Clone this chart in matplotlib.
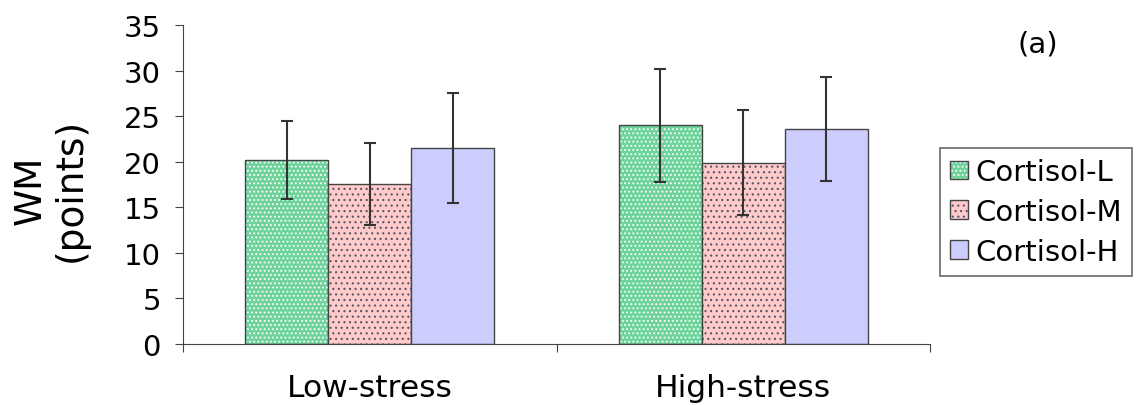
import matplotlib
matplotlib.use("Agg")
import matplotlib.pyplot as plt
import numpy as np

categories = ["Low-stress", "High-stress"]
series = ["Cortisol-L", "Cortisol-M", "Cortisol-H"]
means = {
    "Cortisol-L": [20.2, 24.0],
    "Cortisol-M": [17.6, 19.9],
    "Cortisol-H": [21.5, 23.6],
}
errors = {
    "Cortisol-L": [4.3, 6.2],
    "Cortisol-M": [4.5, 5.8],
    "Cortisol-H": [6.0, 5.7],
}
colors = {"Cortisol-L": "#6fd39c", "Cortisol-M": "#ffcaca", "Cortisol-H": "#cccdfd"}
hatches = {"Cortisol-L": "....", "Cortisol-M": "...", "Cortisol-H": None}
hatch_colors = {"Cortisol-L": "white", "Cortisol-M": "#555566", "Cortisol-H": "#333333"}

plt.rcParams["font.family"] = ["DejaVu Sans"]
plt.rcParams["hatch.linewidth"] = 0.8
fig = plt.figure(figsize=(11.41, 4.06), dpi=100)
ax = fig.add_axes([183/1141, 1-345/406, (930-183)/1141, (345-26)/406])

x = np.arange(len(categories))
w = 0.222
for i, s in enumerate(series):
    bars = ax.bar(x + (i-1)*w, means[s], width=w, color=colors[s], edgecolor="#444444",
                  linewidth=1.0, label=s, hatch=hatches[s], zorder=2)
    for b in bars:
        b._hatch_color = matplotlib.colors.to_rgba(hatch_colors[s])
    ax.errorbar(x + (i-1)*w, means[s], yerr=errors[s], fmt="none", ecolor="#333333",
                elinewidth=1.5, capsize=4, capthick=1.5, zorder=3)

ax.set_xlim(-0.5, 1.5)
ax.set_ylim(0, 35)
ax.set_yticks(np.arange(0, 36, 5))
ax.set_xticks([-0.5, 0.5, 1.5], minor=False)
ax.set_xticklabels([])
ax.set_xticks(x, minor=True)
ax.set_xticklabels(categories, minor=True, fontsize=22.5)
ax.tick_params(axis="x", which="minor", length=0, pad=21)
ax.tick_params(axis="x", which="major", length=6, direction="out", color="#444444")
ax.tick_params(axis="y", length=6, direction="out", labelsize=21, color="#444444", pad=10)
for sp in ["top", "right"]:
    ax.spines[sp].set_visible(False)
for sp in ["left", "bottom"]:
    ax.spines[sp].set_color("#444444")

fig.text(51/1141, 1-190/406, "WM\n(points)", fontsize=27, rotation=90, ha="center", va="center",
         linespacing=1.15, multialignment="center")

fig.text(1018/1141, 1-45/406, "(a)", fontsize=21, ha="left", va="center")

leg = ax.legend(loc="upper left", bbox_to_anchor=(940/1141, 1-149/406), bbox_transform=fig.transFigure,
                fontsize=21, frameon=True, fancybox=False, edgecolor="#444444",
                handlelength=0.6, handleheight=0.6, handletextpad=0.25, borderpad=0.35,
                labelspacing=0.4, borderaxespad=0)
leg.get_frame().set_linewidth(1.2)

fig.savefig("out.png", dpi=100)
